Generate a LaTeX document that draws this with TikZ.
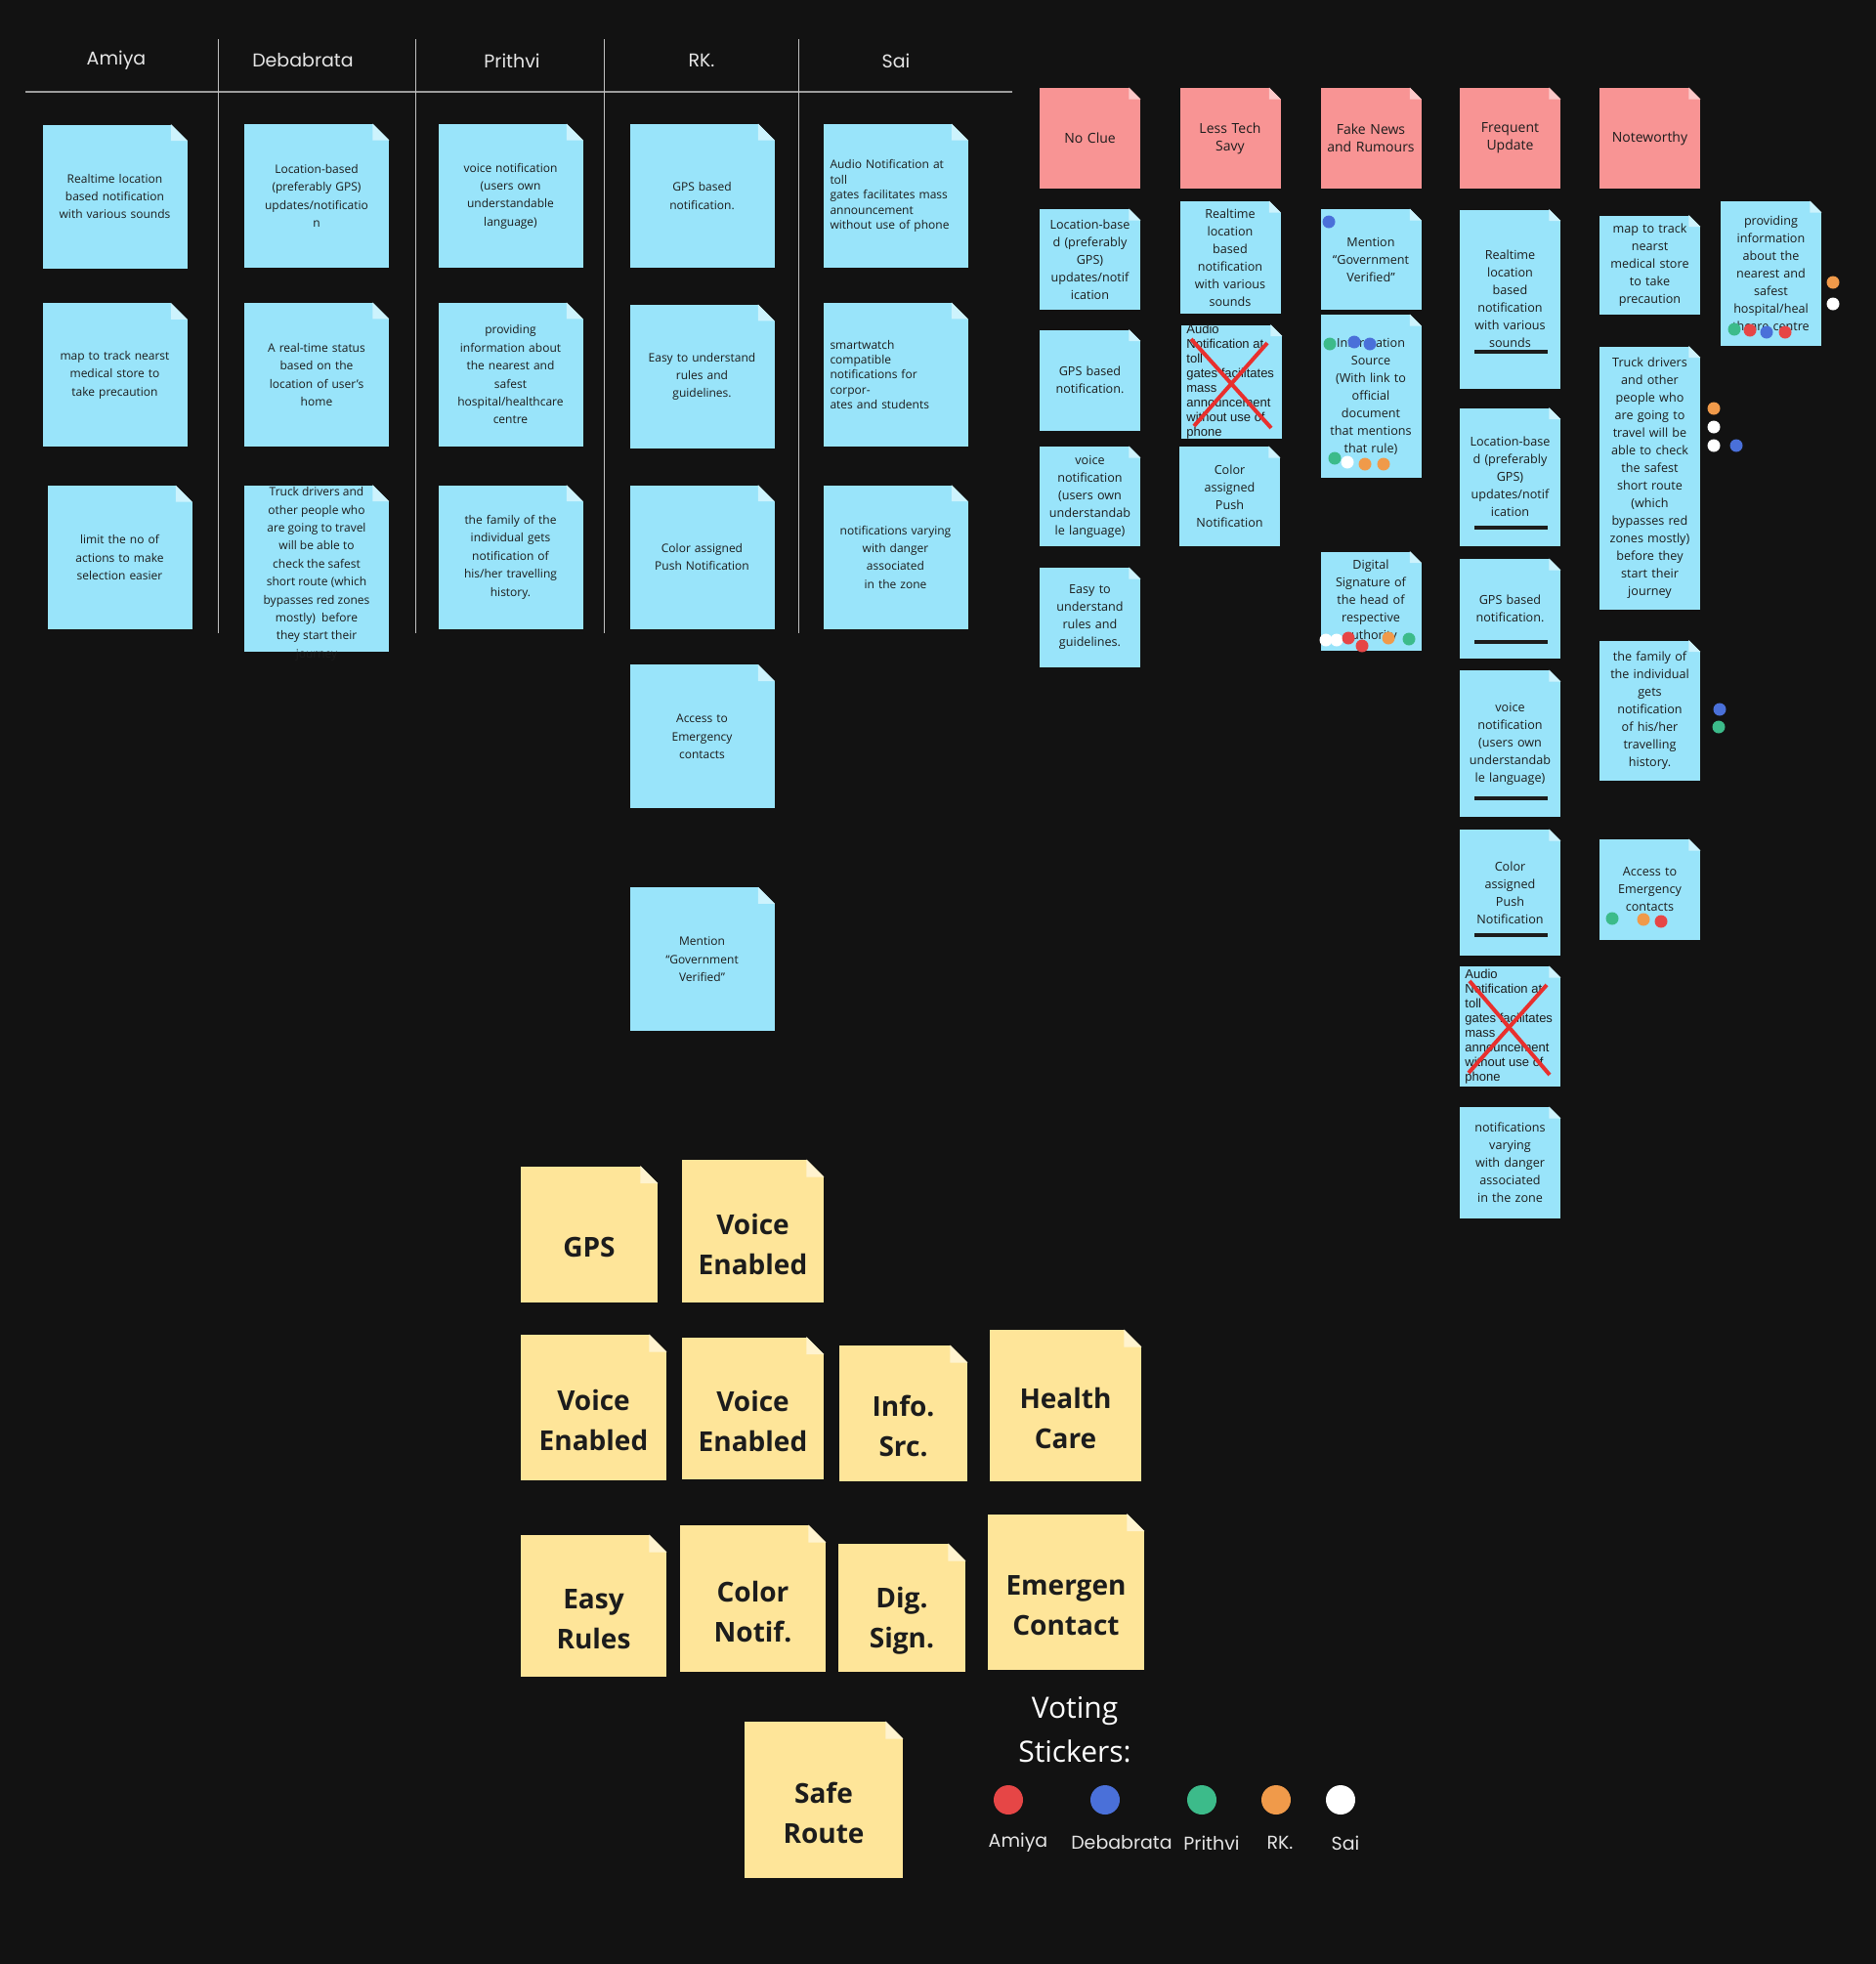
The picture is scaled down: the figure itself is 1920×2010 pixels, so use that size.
\documentclass[tikz,border=0pt]{standalone}
\usepackage{fontspec}
\setmainfont{Open Sans}
\newfontfamily\headfont{Poppins}
\newfontfamily\arialfont{Liberation Sans}
\usetikzlibrary{positioning}

\definecolor{board}{HTML}{121212}
\definecolor{cyanpaper}{HTML}{99E4FA}
\definecolor{cyanfold}{HTML}{CDF3FD}
\definecolor{redpaper}{HTML}{F89494}
\definecolor{redfold}{HTML}{FCC9C9}
\definecolor{yellowpaper}{HTML}{FEE599}
\definecolor{yellowfold}{HTML}{FFF3CF}
\definecolor{ink}{HTML}{1C1C1C}
\definecolor{rulegray}{HTML}{9C9C9C}
\definecolor{stkred}{HTML}{E64646}
\definecolor{stkblue}{HTML}{4A70D9}
\definecolor{stkgreen}{HTML}{3CBB8A}
\definecolor{stkorange}{HTML}{F09A4A}
\definecolor{crossred}{HTML}{E8302E}

\newcommand{\colfont}{\fontsize{6}{9.2}\selectfont}
\newcommand{\colleft}{\fontsize{6}{7.7}\selectfont}
\newcommand{\sidefont}{\fontsize{6.3}{9}\selectfont}
\newcommand{\tagfont}{\fontsize{7}{9}\selectfont}
\newcommand{\votefont}{\fontsize{14}{20.5}\selectfont\bfseries}
\newcommand{\dropline}{\rule{0pt}{24pt}}
% dog-ear corner of a sticky note
\newcommand{\fold}[3]{%
  \fill[board] (#1.north east) -- ++(-#2,0) -- ++(#2,#2) -- cycle;
  \fill[#3] (#1.north east) ++(-#2,0) -- ++(#2,#2) -- ++(-#2,0) -- cycle;}

\begin{document}
\begin{tikzpicture}[
    x=0.5pt, y=-0.5pt,
    notebase/.style={rectangle, inner sep=0pt, align=center, text=ink},
    colnote/.style={notebase, fill=cyanpaper, minimum width=74pt, minimum height=73.5pt, text width=70pt, font=\colfont},
    sidenote/.style={notebase, fill=cyanpaper, minimum width=51.5pt, text width=50pt, font=\sidefont},
    tagnote/.style={notebase, fill=redpaper, minimum width=51.5pt, minimum height=51.5pt, text width=50pt, font=\tagfont},
    votenote/.style={notebase, fill=yellowpaper, font=\votefont},
    member/.style={text=white!90!black, font=\headfont\fontsize{9.5}{11}\selectfont},
    sticker/.style={circle, inner sep=0pt, minimum size=15pt},
    crossed/.style={align=left, text=ink, inner sep=0pt, font=\arialfont\fontsize{6.5}{7.5}\selectfont},
    cross/.style={crossred, line width=2pt},
    bar/.style={ink, line width=2.3pt}
]
    \useasboundingbox (0,0) rectangle (1920,2010);
    \fill[board] (0,0) rectangle (1920,2010);

    % board grid
    \draw[rulegray, line width=1pt] (26,94) -- (1036,94);
    \foreach \vx in {223,425,618,817}
        \draw[white!75!black, line width=0.4pt] (\vx,40) -- (\vx,648);

    \node[member] (hAmiya) at (119,62) {Amiya};
    \node[member] (hDeb) at (310,62) {Debabrata};
    \node[member] (hPrithvi) at (524,62) {Prithvi};
    \node[member] (hRK) at (718,62) {RK.};
    \node[member] (hSai) at (917,62) {Sai};

    % ideas per member
    \node[colnote] (amiyaA) at (117.5,201) {Realtime location\\based notification\\with various sounds};
    \node[colnote, below=17.5pt of amiyaA] (amiyaB) {map to track nearst\\medical store to\\take precaution};
    \node[colnote, below=19.5pt of amiyaB, xshift=2.5pt] (amiyaC) {limit the no of\\actions to make\\selection easier};

    \node[colnote] (debA) at (324,200.5) {Location-based\\(preferably GPS)\\updates/notificatio\\n};
    \node[colnote, below=17.5pt of debA] (debB) {A real-time status\\based on the\\location of user's\\home};
    \node[colnote, minimum height=85pt, below=19.5pt of debB] (debC) {};

    \node[colnote] (prA) at (522.5,200.5) {voice notification\\(users own\\understandable\\language)};
    \node[colnote, below=17.5pt of prA] (prB) {providing\\information about\\the nearest and\\safest\\hospital/healthcare\\centre};
    \node[colnote, below=19.5pt of prB] (prC) {the family of the\\individual gets\\notification of\\his/her travelling\\history.};

    \node[colnote] (rkA) at (718.5,200.5) {GPS based\\notification.};
    \node[colnote, below=18.5pt of rkA] (rkB) {Easy to understand\\rules and\\guidelines.};
    \node[colnote, below=18.5pt of rkB] (rkC) {Color assigned\\Push Notification};
    \node[colnote, below=18pt of rkC] (rkD) {Access to\\Emergency\\contacts};
    \node[colnote, below=40pt of rkD] (rkE) {Mention\\“Government\\Verified”};

    \node[colnote, align=left, text width=67pt, font=\colleft] (saiA) at (916.5,200.5) {Audio Notification at\\toll\\gates facilitates mass\\announcement\\without use of phone};
    \node[colnote, align=left, text width=67pt, font=\colleft, below=17.5pt of saiA] (saiB) {smartwatch\\compatible\\notifications for\\corpor-\\ates and students};
    \node[colnote, below=19.5pt of saiB] (saiC) {notifications varying\\with danger\\associated\\in the zone};

    % affinity groups
    \node[tagnote] (tagClue) at (1115.5,141.5) {No Clue};
    \node[tagnote] (tagTech) at (1259,141.5) {Less Tech\\Savy};
    \node[tagnote] (tagFake) at (1403,141.5) {Fake News\\and Rumours};
    \node[tagnote] (tagFreq) at (1545.5,141.5) {Frequent\\Update};
    \node[tagnote] (tagWorthy) at (1688.5,141.5) {Noteworthy};

    \node[sidenote, minimum height=51.5pt] (clueA) at (1115.5,265.5) {Location-base\\d (preferably\\GPS)\\updates/notif\\ication};
    \node[sidenote, minimum height=51.5pt] (clueB) at (1115.5,389) {GPS based\\notification.};
    \node[sidenote, minimum height=51pt] (clueC) at (1115.5,508) {voice\\notification\\(users own\\understandab\\le language)};
    \node[sidenote, minimum height=51pt] (clueD) at (1115.5,632) {Easy to\\understand\\rules and\\guidelines.};

    \node[sidenote, minimum height=57.5pt] (techA) at (1259,263.5) {Realtime\\location\\based\\notification\\with various\\sounds};
    \node[sidenote, minimum height=58pt] (techB) at (1260.5,390.5) {};
    \node[sidenote, minimum height=51pt] (techC) at (1258.5,508) {Color\\assigned\\Push\\Notification};

    \node[sidenote, minimum height=51.5pt] (fakeA) at (1403,265.5) {Mention\\“Government\\Verified”};
    \node[sidenote, minimum height=83.5pt] (fakeB) at (1403,405.5) {Information\\Source\\(With link to\\official\\document\\that mentions\\that rule)};
    \node[sidenote, minimum height=50.5pt] (fakeC) at (1403,615) {Digital\\Signature of\\the head of\\respective\\authority};

    \node[sidenote, minimum height=91.5pt] (freqA) at (1545.5,306) {Realtime\\location\\based\\notification\\with various\\sounds};
    \node[sidenote, minimum height=70.5pt] (freqB) at (1545.5,488) {Location-base\\d (preferably\\GPS)\\updates/notif\\ication};
    \node[sidenote, minimum height=51pt] (freqC) at (1545.5,623) {GPS based\\notification.};
    \node[sidenote, minimum height=75pt] (freqD) at (1545.5,761) {voice\\notification\\(users own\\understandab\\le language)};
    \node[sidenote, minimum height=64.5pt] (freqE) at (1545.5,913.5) {Color\\assigned\\Push\\Notification};
    \node[sidenote, minimum height=61.5pt] (freqF) at (1545.5,1050.5) {};
    \node[sidenote, minimum height=57pt] (freqG) at (1545.5,1190) {notifications\\varying\\with danger\\associated\\in the zone};

    \node[sidenote, minimum height=50.5pt] (worthyA) at (1688.5,271) {map to track\\nearst\\medical store\\to take\\precaution};
    \node[sidenote, minimum height=134.5pt] (worthyB) at (1688.5,489) {Truck drivers\\and other\\people who\\are going to\\travel will be\\able to check\\the safest\\short route\\(which\\bypasses red\\zones mostly)\\before they\\start their\\journey};
    \node[sidenote, minimum height=71.5pt] (worthyC) at (1688.5,727) {the family of\\the individual\\gets\\notification\\of his/her\\travelling\\history.};
    \node[sidenote, minimum height=51.5pt] (worthyD) at (1688.5,910.5) {Access to\\Emergency\\contacts};
    \node[sidenote, minimum height=74pt] (worthyE) at (1812.5,280) {providing\\information\\about the\\nearest and\\safest\\hospital/heal\\thcare centre};

    % feature shortlist
    \node[votenote, minimum width=70pt, minimum height=69.5pt] (yGps) at (603,1263) {\dropline GPS};
    \node[votenote, minimum width=72.5pt, minimum height=73pt] (yVoiceA) at (770.5,1260) {\dropline Voice\\Enabled};
    \node[votenote, minimum width=74.5pt, minimum height=74.5pt] (yVoiceB) at (607.5,1440.5) {\dropline Voice\\Enabled};
    \node[votenote, minimum width=72.5pt, minimum height=72.5pt] (yVoiceC) at (770.5,1441) {\dropline Voice\\Enabled};
    \node[votenote, minimum width=65.5pt, minimum height=69.5pt] (yInfo) at (924.5,1446.5) {\dropline Info.\\Src.};
    \node[votenote, minimum width=77.5pt, minimum height=77.5pt] (yHealth) at (1090.5,1438.5) {\dropline Health\\Care};
    \node[votenote, minimum width=74.5pt, minimum height=72.5pt] (yEasy) at (607.5,1643.5) {\dropline Easy\\Rules};
    \node[votenote, minimum width=74.5pt, minimum height=75pt] (yColor) at (770.5,1636) {\dropline Color\\Notif.};
    \node[votenote, minimum width=65pt, minimum height=65.5pt] (yDig) at (923,1645.5) {\dropline Dig.\\Sign.};
    \node[votenote, minimum width=80pt, minimum height=79.5pt] (yEmerg) at (1091,1629) {\dropline Emergen\\Contact};
    \node[votenote, minimum width=81pt, minimum height=80pt] (ySafe) at (843,1842) {\dropline Safe\\Route};

    % folded corners
    \foreach \n in {amiyaA,amiyaB,amiyaC,debA,debB,debC,prA,prB,prC,rkA,rkB,rkC,rkD,rkE,saiA,saiB,saiC}
        {\fold{\n}{17}{cyanfold}}
    \foreach \n in {clueA,clueB,clueC,clueD,techA,techB,techC,fakeA,fakeB,fakeC,freqA,freqB,freqC,freqD,freqE,freqF,freqG,worthyA,worthyB,worthyC,worthyD,worthyE}
        {\fold{\n}{12}{cyanfold}}
    \foreach \n in {tagClue,tagTech,tagFake,tagFreq,tagWorthy}
        {\fold{\n}{12}{redfold}}
    \foreach \n in {yGps,yVoiceA,yVoiceB,yVoiceC,yInfo,yHealth,yEasy,yColor,yDig,yEmerg,ySafe}
        {\fold{\n}{18}{yellowfold}}

    % texts running over their notes
    \node[notebase, font=\colfont, below=1pt of debC.north] (debCtext) {Truck drivers and\\other people who\\are going to travel\\will be able to\\check the safest\\short route (which\\bypasses red zones\\mostly)\ \ before\\they start their\\journey};
    \node[crossed, anchor=west] (techBtext) at (1214,390.5) {Audio\\Notification at\\toll\\gates facilitates\\mass\\announcement\\without use of\\phone};
    \node[crossed, anchor=west] (freqFtext) at (1499,1050.5) {Audio\\Notification at\\toll\\gates facilitates\\mass\\announcement\\without use of\\phone};

    \draw[cross] (1219,347) -- (1301,438);
    \draw[cross] (1297,351) -- (1222,436);
    \draw[cross] (1504,1004) -- (1586,1100);
    \draw[cross] (1583,1008) -- (1503,1098);

    \foreach \by in {360,540,657,817,957}
        \draw[bar] (1509,\by) -- (1584,\by);

    % votes
    \foreach \px/\py/\c in {1360/227/stkblue,
        1361/352/stkgreen, 1386/350/stkblue, 1402/352/stkblue, 1366/469/stkgreen, 1379/473/white, 1397/475/stkorange, 1416/475/stkorange,
        1357/655/white, 1368/655/white, 1380/653/stkred, 1394/661/stkred, 1421/653/stkorange, 1442/654/stkgreen,
        1775/337/stkgreen, 1791/338/stkred, 1808/340/stkblue, 1827/340/stkred, 1876/289/stkorange, 1876/311/white,
        1754/418/stkorange, 1754/437/white, 1754/456/white, 1777/456/stkblue,
        1760/726/stkblue, 1759/744/stkgreen,
        1650/940/stkgreen, 1682/941/stkorange, 1700/943/stkred}
        \fill[\c] (\px,\py) circle[radius=6.5];

    % legend
    \node[text=white, font=\fontsize{15}{22.5}\selectfont, align=center] (voteHead) at (1100,1770) {Voting\\Stickers:};
    \node[sticker, fill=stkred] (legAmiya) at (1032,1842) {};
    \node[sticker, fill=stkblue] (legDeb) at (1131,1842) {};
    \node[sticker, fill=stkgreen] (legPrithvi) at (1230,1842) {};
    \node[sticker, fill=stkorange] (legRK) at (1306,1842) {};
    \node[sticker, fill=white] (legSai) at (1372,1842) {};
    \node[member] (nameAmiya) at (1042,1886) {Amiya};
    \node[member] (nameDeb) at (1148,1886) {Debabrata};
    \node[member] (namePrithvi) at (1240,1886) {Prithvi};
    \node[member] (nameRK) at (1310,1886) {RK.};
    \node[member] (nameSai) at (1377,1886) {Sai};
\end{tikzpicture}
\end{document}
